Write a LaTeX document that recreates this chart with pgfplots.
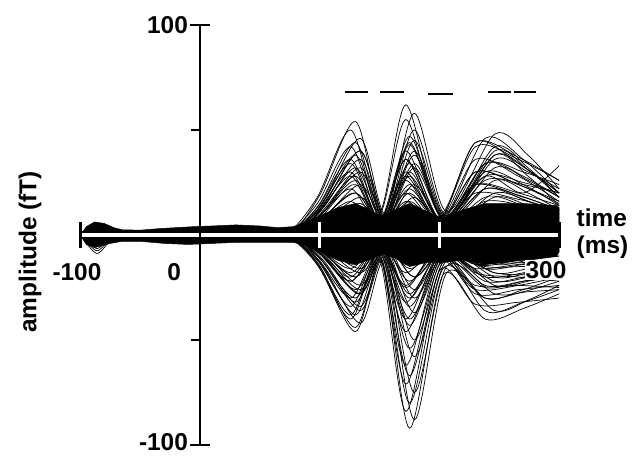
\documentclass[border=0pt]{standalone}
\usepackage{pgfplots}
\pgfplotsset{compat=1.18}
\usepackage{fontspec}
\setmainfont{Liberation Sans}
\newcommand\lab{\fontsize{24.5}{28}\selectfont\bfseries}
\pgfplotsset{ln/.style={black, line width=0.7bp, smooth, mark=none}}
\newcommand{\mc}[8]{\addplot[ln] coordinates {(50,0)(75,0)(100,#1)(130,#2)(152,#3)(175,#4)(203,#5)(238,#6)(270,#7)(300,#8)};}
\newcommand{\md}[8]{\addplot[ln] coordinates {(50,0)(72,0)(98,#1)(126,#2)(150,#3)(172,#4)(200,#5)(230,#6)(266,#7)(300,#8)};}
\newcommand{\me}[8]{\addplot[ln] coordinates {(50,0)(78,0)(103,#1)(134,#2)(155,#3)(179,#4)(206,#5)(246,#6)(274,#7)(300,#8)};}
\begin{document}
\begin{tikzpicture}
\begin{axis}[at={(0,0)}, anchor=south west, scale only axis, width=633bp, height=457bp,
  xmin=-167.1, xmax=361.7, ymin=-105.7, ymax=111.9, hide axis, clip=false]
% dense band
\addplot[fill=black, draw=black, line width=0.5bp] coordinates {
(-99,0.5) (-95,4) (-88,6.2) (-80,5.5) (-72,3.5) (-65,2.5) (-50,2.3) (-35,3) (-20,3.5) (-5,4) (10,4.3) (30,4.8) (50,4.3) (65,3.5) (78,4) (88,6) (100,9) (115,13) (130,15) (145,11) (152,9) (163,12) (175,15) (190,11) (203,8) (220,12) (238,15) (270,15) (298,14) (300,13)
(300,-8) (298,-10) (270,-12) (238,-14) (220,-12) (203,-13) (190,-13) (175,-15) (163,-11) (152,-9) (145,-11) (130,-14) (115,-12) (100,-8) (88,-5) (78,-3.5) (65,-3.5) (50,-3.5) (30,-3.5) (10,-4) (-10,-4.5) (-30,-4) (-50,-3) (-65,-3) (-75,-4) (-88,-6) (-95,-4.5) (-99,-1)
} -- cycle;
% early contour lines
\addplot[ln] coordinates {(-100,0)(-92,-5)(-86,-7.5)(-80,-5)(-72,0)};
\addplot[ln] coordinates {(-100,0)(-92,-6)(-86,-8.8)(-80,-6)(-72,0)};
\addplot[ln] coordinates {(-100,0)(-92,-4)(-86,-6.5)(-80,-4)(-72,0)};
% channels
\mc{19}{54}{7}{20}{5}{30}{24}{14}
\md{18}{50}{11}{62}{9}{24}{19}{12}
\me{16}{46}{10}{58}{11}{48}{38}{22}
\mc{15}{44}{9}{44}{9}{46}{36}{20}
\md{15}{42}{10}{55}{10}{44}{37}{26}
\me{14}{40}{9}{50}{9}{42}{32}{18}
\mc{13}{38}{8}{47}{8}{28}{20}{33}
\me{13}{36}{8}{45}{8}{38}{31}{20}
\md{12}{34}{7}{40}{8}{36}{28}{16}
\mc{11}{32}{8}{43}{8}{34}{30}{24}
\me{11}{30}{7}{38}{7}{32}{26}{18}
\md{10}{28}{6}{36}{7}{30}{24}{15}
\mc{9}{26}{6}{34}{6}{28}{25}{20}
\me{8}{24}{6}{32}{6}{26}{20}{12}
\md{8}{22}{5}{30}{5}{24}{20}{14}
\mc{7}{20}{5}{28}{5}{22}{17}{10}
\md{13}{36}{6}{26}{5}{20}{17}{12}
\me{11}{32}{6}{24}{4}{18}{14}{8}
\mc{10}{28}{5}{22}{4}{16}{14}{10}
\me{6}{18}{6}{40}{8}{36}{30}{22}
\md{6}{16}{5}{36}{8}{42}{36}{26}
\mc{5}{14}{4}{30}{6}{34}{28}{18}
\me{14}{40}{6}{18}{3}{14}{11}{6}
\md{4}{12}{3}{20}{5}{30}{24}{16}
\mc{4}{10}{3}{16}{4}{26}{24}{20}
\mc{-16}{-46}{-13}{-92}{-19}{-40}{-35}{-28}
\me{-15}{-42}{-13}{-88}{-18}{-36}{-31}{-24}
\md{-14}{-40}{-12}{-84}{-17}{-33}{-32}{-30}
\mc{-13}{-38}{-12}{-80}{-16}{-30}{-27}{-22}
\me{-13}{-36}{-11}{-75}{-15}{-28}{-27}{-26}
\md{-12}{-34}{-10}{-71}{-14}{-26}{-24}{-20}
\mc{-11}{-32}{-10}{-67}{-13}{-25}{-22}{-18}
\md{-11}{-30}{-9}{-62}{-12}{-24}{-24}{-25}
\me{-10}{-28}{-9}{-58}{-12}{-22}{-20}{-16}
\mc{-9}{-26}{-8}{-54}{-11}{-20}{-18}{-14}
\me{-8}{-24}{-7}{-50}{-10}{-18}{-19}{-20}
\md{-8}{-22}{-7}{-46}{-9}{-16}{-14}{-12}
\mc{-7}{-20}{-6}{-43}{-8}{-15}{-15}{-15}
\md{-6}{-18}{-6}{-40}{-8}{-14}{-12}{-10}
\me{-6}{-16}{-5}{-37}{-7}{-13}{-13}{-12}
\mc{-15}{-44}{-8}{-34}{-9}{-30}{-26}{-20}
\md{-13}{-38}{-7}{-32}{-9}{-28}{-26}{-24}
\me{-12}{-34}{-6}{-30}{-8}{-24}{-22}{-18}
\mc{-11}{-30}{-6}{-28}{-7}{-22}{-20}{-16}
\me{-9}{-26}{-5}{-26}{-7}{-20}{-18}{-14}
\md{-8}{-22}{-5}{-24}{-6}{-18}{-20}{-22}
\mc{-7}{-20}{-4}{-22}{-5}{-16}{-14}{-12}
\me{-6}{-18}{-4}{-20}{-5}{-14}{-12}{-10}
\md{-6}{-16}{-3}{-18}{-4}{-12}{-10}{-8}
\mc{7}{20}{-1}{-30}{-2}{18}{14}{8}
\md{-7}{-20}{1}{28}{1}{-14}{-12}{-8}
\me{5}{15}{-1}{-20}{-6}{-18}{-16}{-14}
\mc{-5}{-14}{1}{24}{5}{22}{18}{12}
\md{4}{10}{0}{-14}{0}{12}{10}{6}
\me{-4}{-10}{0}{12}{0}{-10}{-8}{-6}
\mc{8}{24}{-2}{-40}{-9}{-24}{-22}{-20}
\me{-10}{-28}{1}{34}{5}{20}{16}{10}
\md{3}{8}{2}{10}{2}{8}{6}{4}
\mc{-3}{-8}{-2}{-10}{-3}{-8}{-6}{-4}
\md{11}{30}{0}{-25}{-2}{10}{8}{5}
\me{4}{12}{3}{14}{5}{40}{31}{18}
\md{-4}{-12}{0}{16}{6}{44}{34}{20}
\mc{2}{6}{-1}{-16}{-7}{-36}{-32}{-26}
\me{-2}{-6}{0}{8}{5}{38}{28}{14}
% significance bars
\addplot[black, line width=2.5bp] coordinates {(121.1,68.1)(140.4,68.1)};
\addplot[black, line width=2.5bp] coordinates {(150.4,68.1)(170.4,68.1)};
\addplot[black, line width=2.5bp] coordinates {(190.5,67.1)(211.4,67.1)};
\addplot[black, line width=2.5bp] coordinates {(240.6,68.1)(259.8,68.1)};
\addplot[black, line width=2.5bp] coordinates {(262.3,68.1)(280.7,68.1)};
% x axis (double line)
\draw[black, line width=8bp] (axis cs:-100,0) -- (axis cs:300,0);
\draw[black, line width=6bp] (axis cs:100,7.1) -- (axis cs:100,-7.1);
\draw[black, line width=6bp] (axis cs:200,7.1) -- (axis cs:200,-7.1);
\draw[white, line width=4bp] (axis cs:-100,0) -- (axis cs:300,0);
\draw[white, line width=2.5bp] (axis cs:100,6) -- (axis cs:100,-6);
\draw[white, line width=2.5bp] (axis cs:200,6) -- (axis cs:200,-6);
\draw[black, line width=3bp] (axis cs:-100,6.2) -- (axis cs:-100,-6.2);
\draw[black, line width=3bp] (axis cs:300,6.2) -- (axis cs:300,-6.2);
% y axis
\draw[black, line width=2.7bp] (axis cs:0,-100) -- (axis cs:0,100);
\draw[black, line width=2.5bp] ([xshift=-10bp]axis cs:0,100) -- ([xshift=10bp]axis cs:0,100);
\draw[black, line width=2.5bp] ([xshift=-10bp]axis cs:0,-100) -- ([xshift=10bp]axis cs:0,-100);
\draw[black, line width=2.5bp] ([xshift=-9bp]axis cs:0,50) -- (axis cs:0,50);
\draw[black, line width=2.5bp] ([xshift=-9bp]axis cs:0,-50) -- (axis cs:0,-50);
% labels
\node[anchor=east, inner sep=0pt, font=\lab] at (axis cs:-10,100) {100};
\node[anchor=east, inner sep=0pt, font=\lab, yshift=3bp] at (axis cs:-10,-100) {-100};
\node[inner sep=0pt, font=\lab] at (axis cs:-102.8,-17.6) {-100};
\node[inner sep=0pt, font=\lab] at (axis cs:-21.7,-17.6) {0};
\node[fill=white, inner sep=1bp, font=\lab] at (axis cs:289,-16.7) {300};
\node[anchor=west, inner sep=0pt, font=\lab] at (axis cs:314.5,8.1) {time};
\node[anchor=west, inner sep=0pt, font=\lab] at (axis cs:314.5,-6) {(ms)};
\node[rotate=90, inner sep=0pt, font=\lab] at (axis cs:-142,-8.1) {amplitude (fT)};
\end{axis}
\pgfresetboundingbox
\path (0,0) rectangle (633bp,457bp);
\end{tikzpicture}
\end{document}
